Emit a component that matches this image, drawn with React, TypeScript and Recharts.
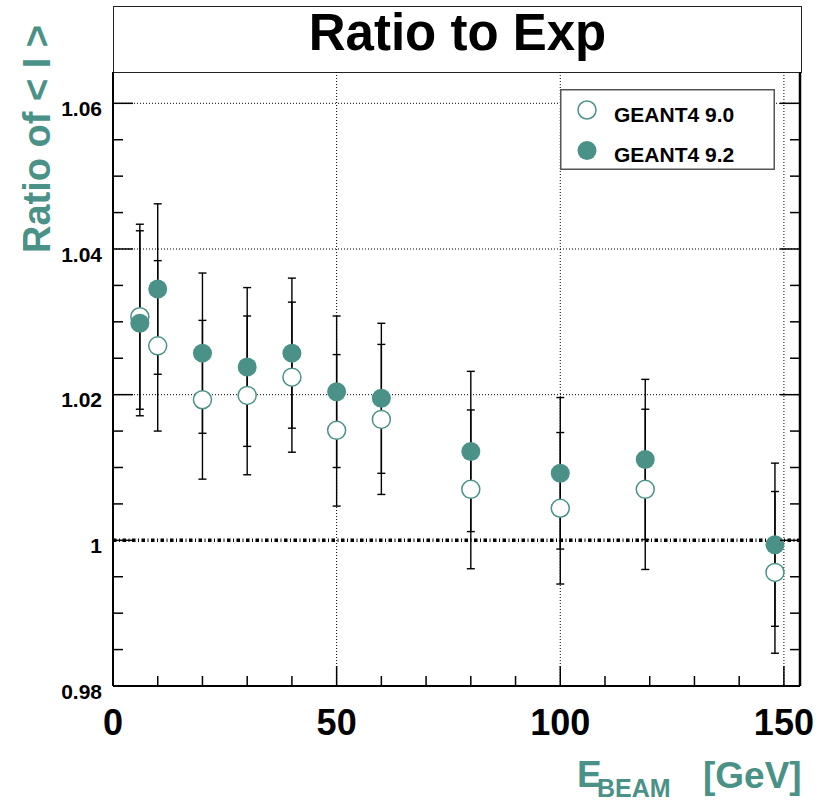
import React from "react";
import {
  ScatterChart,
  Scatter,
  XAxis,
  YAxis,
  CartesianGrid,
  ErrorBar,
  ReferenceLine,
  Legend,
} from "recharts";

const TEAL = "#4a9187";
const FONT = "'Liberation Sans', Arial, Helvetica, sans-serif";

// beam energies [GeV]
const energies = [6, 10, 20, 30, 40, 50, 60, 80, 100, 119, 148];

// GEANT4 9.0 (open markers)
const g490 = [1.0307, 1.0267, 1.0193, 1.0199, 1.0224, 1.0151, 1.0166, 1.007, 1.0044, 1.007, 0.9956];
const g490Err = [0.0127, 0.0117, 0.0109, 0.0109, 0.0103, 0.0104, 0.0103, 0.0109, 0.0104, 0.011, 0.0111];

// GEANT4 9.2 (filled markers)
const g492 = [1.0298, 1.0345, 1.0257, 1.0238, 1.0257, 1.0204, 1.0195, 1.0122, 1.0092, 1.0111, 0.9994];
const g492Err = [0.0127, 0.0117, 0.011, 0.0109, 0.0103, 0.0104, 0.0103, 0.011, 0.0104, 0.011, 0.0112];

const xDomain = [0, 153.6];
const yDomain = [0.98, 1.0643];
const xMajorTicks = [0, 50, 100, 150];
const xTicks = [0, 10, 20, 30, 40, 50, 60, 70, 80, 90, 100, 110, 120, 130, 140, 150];
const yMajorTicks = [0.98, 1, 1.02, 1.04, 1.06];
const yMajorLabels = ["0.98", "1", "1.02", "1.04", "1.06"];
const yTicks = [
  0.98, 0.985, 0.99, 0.995, 1, 1.005, 1.01, 1.015, 1.02, 1.025, 1.03, 1.035, 1.04,
  1.045, 1.05, 1.055, 1.06,
];

const data490 = energies.map((x, i) => ({ x, y: g490[i], err: g490Err[i] }));
const data492 = energies.map((x, i) => ({ x, y: g492[i], err: g492Err[i] }));

// frame layout
const CHART_W = 832;
const CHART_H = 803;
const Y_AXIS_W = 113;
const X_AXIS_H = 117;
const MARGIN = { top: 72, right: 32, bottom: 0, left: 0 };
const PLOT_W = CHART_W - Y_AXIS_W - MARGIN.right;
const X_GAP = 20; // tickSize + tickMargin on x axis
const Y_GAP = 11; // tickSize + tickMargin on y axis

const OpenDot = (p: any) => (
  <circle cx={p.cx} cy={p.cy} r={9} fill="#fff" stroke={TEAL} strokeWidth={1.5} />
);
const FilledDot = (p: any) => <circle cx={p.cx} cy={p.cy} r={9.5} fill={TEAL} />;

// ticks point into the frame, like ROOT
const XTick = (p: any) => {
  const v = p.payload.value;
  const axisY = p.y - X_GAP;
  const major = xMajorTicks.includes(v);
  return (
    <g>
      <line x1={p.x} x2={p.x} y1={axisY} y2={axisY - (major ? 20 : 10)} stroke="#000" strokeWidth={1.5} />
      {major && (
        <text x={p.x} y={p.y + 29} textAnchor="middle" fontFamily={FONT} fontWeight="bold" fontSize={36} fill="#000">
          {v}
        </text>
      )}
    </g>
  );
};

const YTick = (p: any) => {
  const v = p.payload.value;
  const axisX = p.x + Y_GAP;
  const idx = yMajorTicks.indexOf(v);
  const len = idx >= 0 ? 20 : 10;
  return (
    <g>
      <line x1={axisX} x2={axisX + len} y1={p.y} y2={p.y} stroke="#000" strokeWidth={1.5} />
      <line x1={axisX + PLOT_W} x2={axisX + PLOT_W - len} y1={p.y} y2={p.y} stroke="#000" strokeWidth={1.5} />
      {idx >= 0 && (
        <text x={p.x} y={p.y + 12.8} textAnchor="end" fontFamily={FONT} fontWeight="bold" fontSize={21} fill="#000">
          {yMajorLabels[idx]}
        </text>
      )}
    </g>
  );
};

const YLabel = () => (
  <text
    transform="translate(50,25) rotate(-90)"
    textAnchor="end"
    fontFamily={FONT}
    fontWeight="bold"
    fontSize={38}
    fill={TEAL}
  >
    {"Ratio of < I >"}
  </text>
);

const XLabel = () => (
  <text x={577} y={787} fontFamily={FONT} fontWeight="bold" fontSize={37} fill={TEAL}>
    <tspan>E</tspan>
    <tspan x={597} y={797} fontSize={25}>BEAM</tspan>
    <tspan x={703} y={788}>[GeV]</tspan>
  </text>
);

const LegendBox = () => (
  <svg width={215} height={81} style={{ display: "block" }}>
    <rect x={0.75} y={0.75} width={213.5} height={79.5} fill="#fff" stroke="#555" strokeWidth={1.5} />
    <circle cx={27} cy={21} r={9} fill="#fff" stroke={TEAL} strokeWidth={1.5} />
    <text x={54} y={33} fontFamily={FONT} fontWeight="bold" fontSize={21} fill="#000">
      GEANT4 9.0
    </text>
    <circle cx={27} cy={61.5} r={9.5} fill={TEAL} />
    <text x={54} y={72.5} fontFamily={FONT} fontWeight="bold" fontSize={21} fill="#000">
      GEANT4 9.2
    </text>
  </svg>
);

export default function App() {
  return (
    <div style={{ position: "absolute", left: 0, top: 0, width: CHART_W, height: CHART_H, background: "#fff" }}>
      <div
        style={{
          position: "absolute",
          left: 113,
          top: 6,
          width: 689,
          height: 67,
          boxSizing: "border-box",
          border: "1.5px solid #222",
          textAlign: "center",
          fontFamily: FONT,
          fontWeight: "bold",
          fontSize: 51,
          lineHeight: "51px",
        }}
      >
        Ratio to Exp
      </div>

      <ScatterChart width={CHART_W} height={CHART_H} margin={MARGIN}>
        <CartesianGrid
          xAxisId="main"
          yAxisId="main"
          horizontalValues={[1.02, 1.04, 1.06]}
          verticalValues={[50, 100, 150]}
          stroke="#000"
          strokeWidth={1}
          strokeDasharray="1 2"
        />

        <XAxis
          xAxisId="main"
          type="number"
          dataKey="x"
          domain={xDomain}
          allowDataOverflow
          ticks={xTicks}
          interval={0}
          height={X_AXIS_H}
          tickLine={false}
          tickSize={10}
          tickMargin={10}
          tick={<XTick />}
          axisLine={{ stroke: "#000", strokeWidth: 2 }}
          label={<XLabel />}
        />
        <YAxis
          yAxisId="main"
          type="number"
          dataKey="y"
          domain={yDomain}
          allowDataOverflow
          ticks={yTicks}
          interval={0}
          width={Y_AXIS_W}
          tickLine={false}
          tickSize={6}
          tickMargin={5}
          tick={<YTick />}
          axisLine={{ stroke: "#000", strokeWidth: 2 }}
          label={<YLabel />}
        />

        <ReferenceLine xAxisId="main" yAxisId="main" x={xDomain[1]} stroke="#000" strokeWidth={2.5} />
        <ReferenceLine
          key="unity"
          xAxisId="main"
          yAxisId="main"
          y={1}
          stroke="#000"
          strokeWidth={3.5}
          strokeDasharray="3.5 2.5 1 2.5"
        />

        <Legend
          layout="vertical"
          align="center"
          verticalAlign="middle"
          wrapperStyle={{ left: 560, top: 89, width: 215, height: 81 }}
          content={<LegendBox />}
        />

        <Scatter
          name="GEANT4 9.0"
          xAxisId="main"
          yAxisId="main"
          data={data490}
          shape={OpenDot}
          isAnimationActive={false}
        >
          <ErrorBar dataKey="err" direction="y" width={4} stroke="#000" strokeWidth={1.4} />
        </Scatter>
        <Scatter
          name="GEANT4 9.2"
          xAxisId="main"
          yAxisId="main"
          data={data492}
          shape={FilledDot}
          isAnimationActive={false}
        >
          <ErrorBar dataKey="err" direction="y" width={4} stroke="#000" strokeWidth={1.4} />
        </Scatter>
      </ScatterChart>
    </div>
  );
}
